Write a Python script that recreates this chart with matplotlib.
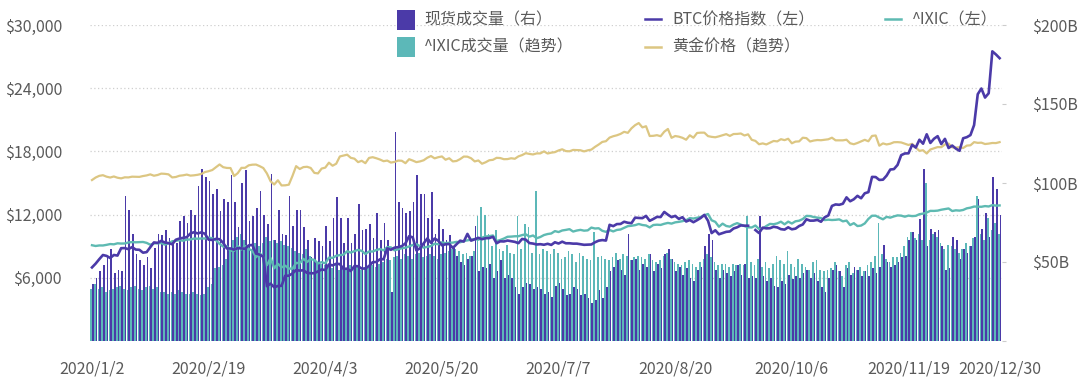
import numpy as np
import pandas as pd
import matplotlib
matplotlib.use("Agg")
import matplotlib.pyplot as plt
from matplotlib.patches import Rectangle
from matplotlib.lines import Line2D

# ---------------- categories (US trading days shown in the chart) ----------------
closed_days = ['2020-01-20', '2020-02-17', '2020-04-10', '2020-05-25', '2020-07-03',
               '2020-09-07', '2020-11-26', '2020-11-27', '2020-12-24', '2020-12-25']
dates = pd.bdate_range('2020-01-02', '2020-12-30', freq='C', holidays=closed_days)
date_labels = [f"{d.year}/{d.month}/{d.day}" for d in dates]

# ---------------- series ----------------
# BTC price index (left axis, $)
btc_price = [
    6985, 7345, 7769, 8163, 8079, 7879, 8166, 8110, 8810, 8821, 8720, 8913, 8680, 8660, 8384, 8440, 8909, 9358, 9317, 9508, 9350,
    9293, 9180, 9613, 9729, 9795, 9856, 10208, 10326, 10214, 10312, 10182, 9619, 9592, 9696, 9663, 9316, 8785, 8785, 8672,
    8821, 8784, 8755, 9078, 9122, 8300, 8200, 8000, 5200, 5450, 5100, 5225, 5238, 6191, 6198, 6416, 6734, 6681, 6716, 6469, 6429, 6438,
    6607, 6793, 6733, 7271, 7176, 7334, 7302, 6845, 6867, 6642, 7116, 7096, 6880, 6880, 7118, 7482, 7505, 7756, 7764, 8801, 8658,
    8864, 8911, 9011, 9269, 9951, 9842, 8601, 8804, 9269, 9734, 9329, 9729, 9523, 9082, 9182, 9209, 8835, 9181, 9525, 9439,
    10167, 9529, 9656, 9800, 9665, 9758, 9771, 9897, 9280, 9465, 9450, 9538, 9480, 9412, 9288, 9687, 9625, 9296, 9250, 9163, 9190, 9137,
    9228, 9123, 9374, 9252, 9428, 9277, 9278, 9243, 9243, 9192, 9132, 9151, 9164, 9374, 9525, 9581, 9536, 11029, 10906, 11100, 11111, 11323,
    11225, 11186, 11711, 11681, 11664, 11878, 11411, 11584, 11784, 11768, 12254, 11991, 11758, 11878, 11592, 11754, 11345, 11484, 11278, 11471, 11680,
    11970, 11414, 10245, 10511, 10131, 10242, 10363, 10400, 10680, 10796, 10974, 10948, 10944, np.nan, 10532, 10246, 10760, 10692, 10709, 10844, 10784,
    10619, 10575, 10792, 10604, 10668, 10915, 11064, 11555, 11425, 11429, 11495, 11322, 11742, 11916, 12823, 12965, 12931, 13031, 13637, 13266, 13456, 13781,
    13551, 14023, 14133, 15579, 15565, 15290, 15314, 15701, 16277, 16318, 16716, 17645, 17804, 17817, 18621, 18365, 19107, 18732, 19625,
    18802, 19201, 19445, 18699, 19191, 18321, 18553, 18264, 18058, 19246, 19350, 19550, 20500, 23430, 23970, 23110, 23520, 27500, 27200, 26850,
]

# ^IXIC close (left axis)
ixic_close = [
    9092, 9020, 9071, 9068, 9129, 9203, 9178, 9274, 9251, 9258, 9357, 9388, 9370, 9383, 9402, 9315, 9139, 9269, 9276, 9299, 9151,
    9273, 9467, 9508, 9572, 9520, 9629, 9638, 9726, 9711, 9731, 9733, 9817, 9751, 9577, 9221, 8966, 8981, 8566, 8567,
    9015, 8684, 9019, 8739, 8576, 7950, 8344, 7953, 7201, 7875, 6905, 7335, 6990, 7151, 6880, 6861, 7418, 7384, 7798, 7502, 7774, 7700,
    7360, 7487, 7374, 7913, 7887, 8091, 8153, 8193, 8516, 8393, 8533, 8650, 8561, 8263, 8495, 8494, 8634, 8730, 8607, 8915, 8890,
    8605, 8710, 8810, 8854, 8980, 9121, 9193, 9002, 8863, 8943, 9015, 9235, 9185, 9375, 9285, 9325, 9340, 9412, 9369, 9490,
    9552, 9609, 9683, 9616, 9814, 9925, 9954, 10020, 9493, 9589, 9726, 9895, 9911, 9943, 9946, 10056, 10131, 9909, 10017, 9757, 9875, 10059,
    10155, 10208, 10433, 10344, 10493, 10548, 10617, 10391, 10488, 10550, 10474, 10503, 10767, 10680, 10706, 10462, 10363, 10536, 10402, 10543, 10587, 10745,
    10903, 10941, 10998, 11108, 11011, 10968, 10782, 11012, 11042, 11019, 11129, 11210, 11146, 11265, 11312, 11379, 11466, 11665, 11625, 11696, 11775,
    11939, 12056, 11458, 11313, 10847, 11142, 10919, 10854, 11057, 11191, 11050, 10910, 10793, 10778, 10963, 10633, 10672, 10914, 11118, 11085, 11168,
    11326, 11076, 11332, 11154, 11365, 11420, 11580, 11876, 11863, 11768, 11714, 11672, 11479, 11517, 11485, 11506, 11548, 11358, 11431, 11005, 11186, 10912,
    10958, 11161, 11590, 11891, 11895, 11713, 11554, 11786, 11710, 11829, 11925, 11901, 11802, 11905, 11855, 11881, 12037, 12095, 12199,
    12355, 12350, 12377, 12464, 12520, 12583, 12339, 12406, 12378, 12440, 12595, 12658, 12765, 12756, 12743, 12808, 12771, 12900, 12851, 12870,
]

# gold price trend (left axis scale)
gold_trend = [
    15280, 15520, 15680, 15740, 15600, 15520, 15620, 15500, 15440, 15540, 15530, 15600, 15590, 15580, 15660, 15720, 15820, 15690, 15760, 15890, 15870,
    15820, 15530, 15570, 15690, 15730, 15800, 15700, 15730, 15780, 15860, 16040, 16120, 16230, 16490, 16760, 16500, 16430, 16420, 15660,
    15940, 16440, 16440, 16680, 16740, 16750, 16600, 16420, 15900, 15160, 14860, 15260, 14770, 14780, 14840, 15670, 16600, 16330, 16510, 16540, 16430, 15960,
    15910, 16370, 16460, 16930, 16640, 16830, 17520, 17610, 17690, 17390, 17310, 16980, 17110, 16880, 17380, 17450, 17350, 17230, 17070, 17130, 16940,
    17000, 17130, 17110, 16880, 17260, 17130, 16980, 17050, 17160, 17400, 17560, 17340, 17450, 17520, 17210, 17350, 17050, 17090, 17270, 17510,
    17500, 17350, 17050, 17140, 16830, 16970, 17160, 17200, 17390, 17370, 17260, 17270, 17350, 17300, 17530, 17650, 17830, 17760, 17710, 17810, 17810, 18000,
    17800, 17880, 17930, 18090, 18200, 18030, 18010, 18140, 18130, 18110, 18000, 18100, 18170, 18430, 18650, 18900, 18970, 19310, 19440, 19530, 19660, 19860,
    19760, 20190, 20490, 20690, 20280, 20390, 19460, 19480, 19540, 19440, 19870, 20130, 19290, 19460, 19400, 19290, 19110, 19530, 19300, 19750, 19780,
    19780, 19450, 19380, 19340, 19430, 19540, 19640, 19470, 19650, 19660, 19700, 19510, 19620, 19100, 19000, 18680, 18760, 18660, 18820, 18990, 18950,
    19160, 19070, 19200, 18770, 18930, 18950, 19300, 19260, 18940, 19030, 19080, 19060, 19110, 19150, 19300, 19050, 19050, 19050, 19110, 18770, 18680, 18800,
    18950, 19100, 18960, 19470, 19510, 18540, 18760, 18660, 18730, 18870, 18880, 18850, 18730, 18610, 18720, 18370, 18050, 18110, 17800,
    18180, 18300, 18410, 18400, 18660, 18740, 18380, 18360, 18400, 18320, 18550, 18580, 18880, 18810, 18830, 18700, 18740, 18800, 18790, 18880,
]

# spot volume, $B (right axis)
spot_volume = [
    36, 40, 44, 48, 53, 58, 43, 45, 44, 92,
    83, 68, 55, 51, 48, 53, 46, 59, 68, 67,
    70, 65, 64, 62, 76, 79, 75, 83, 80, 98,
    109, 104, 101, 93, 96, 82, 90, 88, 105, 88,
    72, 100, 108, 76, 79, 84, 95, 80, 74, 106,
    64, 83, 68, 67, 92, 73, 83, 83, 72, 64,
    53, 65, 63, 60, 73, 63, 78, 91, 78, 62,
    78, 62, 68, 87, 70, 71, 74, 65, 81, 64,
    75, 64, 31, 132, 88, 84, 81, 82, 88, 105,
    93, 93, 78, 94, 68, 77, 71, 64, 67, 59,
    54, 50, 48, 52, 54, 73, 44, 47, 46, 49,
    40, 44, 51, 40, 42, 40, 34, 30, 34, 37,
    36, 33, 34, 33, 30, 31, 28, 35, 37, 33,
    29, 30, 34, 33, 29, 30, 27, 24, 26, 32,
    27, 34, 44, 47, 51, 45, 42, 68, 51, 52,
    45, 49, 47, 55, 44, 49, 46, 55, 58, 52,
    44, 47, 42, 46, 40, 38, 45, 47, 60, 68,
    64, 45, 40, 45, 43, 41, 44, 48, 42, 49,
    40, 41, 40, 79, 41, 38, 40, 35, 34, 38,
    36, 42, 39, 41, 40, 43, 45, 40, 43, 38,
    34, 31, 40, 45, 48, 44, 34, 46, 42, 47,
    45, 41, 44, 41, 46, 43, 47, 61, 50, 47,
    48, 50, 53, 54, 64, 69, 64, 77, 109, 60,
    71, 69, 70, 60, 45, 46, 66, 64, 52, 58,
    56, 60, 66, 90, 71, 81, 66, 104, 96, 80,
]

# ^IXIC volume trend (right axis scale)
ixic_volume = [
    33, 36, 33, 34, 31, 32, 33, 34, 35, 33,
    32, 34, 35, 33, 32, 34, 35, 33, 34, 31,
    31, 30, 31, 30, 32, 31, 30, 30, 31, 30,
    29, 30, 34, 36, 46, 47, 48, 52, 58, 64,
    66, 68, 64, 60, 58, 62, 60, 62, 66, 63,
    64, 62, 63, 61, 60, 59, 57, 56, 55, 58,
    54, 52, 50, 49, 48, 47, 46, 48, 45, 47,
    46, 48, 46, 47, 45, 47, 46, 48, 47, 49,
    50, 52, 51, 53, 54, 52, 55, 54, 52, 55,
    56, 53, 54, 55, 54, 52, 55, 56, 57, 58,
    58, 57, 55, 56, 54, 57, 79, 85, 80, 68,
    60, 70, 58, 57, 61, 56, 55, 79, 58, 74,
    72, 56, 95, 55, 58, 57, 55, 58, 56, 52,
    53, 57, 55, 50, 56, 54, 52, 51, 69, 53,
    54, 52, 51, 53, 56, 52, 55, 54, 51, 53,
    54, 53, 52, 55, 51, 50, 51, 54, 56, 52,
    50, 49, 48, 50, 51, 49, 47, 50, 52, 55,
    53, 50, 48, 49, 49, 47, 49, 48, 49, 48,
    79, 50, 48, 52, 47, 50, 46, 49, 54, 51,
    49, 57, 49, 47, 52, 49, 47, 45, 50, 51,
    45, 44, 45, 46, 50, 44, 41, 48, 50, 43,
    45, 47, 44, 48, 50, 54, 75, 55, 52, 50,
    53, 53, 56, 60, 66, 69, 65, 68, 64, 100,
    64, 68, 66, 62, 58, 61, 60, 58, 56, 58,
    62, 60, 65, 92, 68, 64, 78, 70, 75, 68,
]

left_ticks = [0, 6000, 12000, 18000, 24000, 30000]
right_ticks = [0, 50, 100, 150, 200]
label_every = 32

# ---------------- styling ----------------
plt.rcParams['font.family'] = ['Noto Sans CJK SC', 'DejaVu Sans']
C_PURPLE = '#4b3aa8'
C_TEAL = '#5cb8b8'
C_TEAL_LINE = '#5ebab2'
C_GOLD = '#dcc682'
C_TEXT = '#5a5a5a'
FS = 11.5

W, H = 1080, 381
fig = plt.figure(figsize=(W / 100, H / 100), dpi=100)
n = len(dates)
x = np.arange(n)

left_px, right_px, top_px, bottom_px = 89.8, 1001.8, 25, 341
ax = fig.add_axes([left_px / W, (H - bottom_px) / H, (right_px - left_px) / W, (bottom_px - top_px) / H])
ax2 = ax.twinx()

# bars (right axis): two bars per category, side by side
bw = 0.46
ax2.bar(x - bw / 2, ixic_volume, width=bw, color=C_TEAL, linewidth=0)
ax2.bar(x + bw / 2, spot_volume, width=bw, color=C_PURPLE, linewidth=0)

# lines (left axis)
ax.plot(x, gold_trend, color=C_GOLD, lw=1.6, solid_joinstyle='round')
ax.plot(x, ixic_close, color=C_TEAL_LINE, lw=1.7, solid_joinstyle='round')
ax.plot(x, btc_price, color=C_PURPLE, lw=1.9, solid_joinstyle='round')

ax.set_zorder(ax2.get_zorder() + 1)
ax.patch.set_visible(False)

for a in (ax, ax2):
    a.set_xlim(-0.6, n - 1 + 0.6)
    for s in a.spines.values():
        s.set_visible(False)

ax.set_ylim(left_ticks[0], left_ticks[-1])
ax.set_yticks(left_ticks)
ax.set_yticklabels([''] + [f"${v:,}" for v in left_ticks[1:]])
ax.tick_params(axis='y', length=0, pad=20, labelsize=FS, labelcolor=C_TEXT)

ax2.set_ylim(right_ticks[0], right_ticks[-1])
ax2.set_yticks(right_ticks)
ax2.set_yticklabels([''] + [f"${v}B" for v in right_ticks[1:]])
ax2.tick_params(axis='y', length=3, width=0.8, color='#cccccc', pad=19, labelsize=FS, labelcolor=C_TEXT)

tick_pos = list(range(0, n, label_every))
if tick_pos[-1] != n - 1:
    tick_pos.append(n - 1)
ax.set_xticks(tick_pos)
ax.set_xticklabels([date_labels[i] for i in tick_pos])
ax.tick_params(axis='x', length=0, pad=14, labelsize=FS, labelcolor=C_TEXT)
ax2.tick_params(axis='x', length=0)

for v in left_ticks[1:]:
    ax2.axhline(v / left_ticks[-1] * right_ticks[-1], color='#cfcfcf', lw=0.9,
                ls=(0, (1, 2)), zorder=0)

# ---------------- legend (manual layout) ----------------
def fx(px):
    return px / W

def fy(py):
    return 1 - py / H

def square(px, py, color):
    fig.add_artist(Rectangle((fx(px), fy(py + 20)), 18 / W, 20 / H, transform=fig.transFigure,
                             color=color, lw=0))

def dash(px, py, color):
    fig.add_artist(Line2D([fx(px), fx(px + 16)], [fy(py), fy(py)], transform=fig.transFigure,
                          color=color, lw=1.8))

def label(px, py, s):
    fig.text(fx(px), fy(py), s, ha='left', va='center', fontsize=FS, color=C_TEXT)

square(397, 10, C_PURPLE)
label(424, 20, '现货成交量（右）')
dash(645, 19, C_PURPLE)
label(672, 20, 'BTC价格指数（左）')
dash(885, 19, C_TEAL_LINE)
label(912, 20, '^IXIC（左）')
square(397, 37, C_TEAL)
label(424, 47, '^IXIC成交量（趋势）')
dash(645, 47, C_GOLD)
label(672, 47, '黄金价格（趋势）')

fig.savefig('out.png', dpi=100)
